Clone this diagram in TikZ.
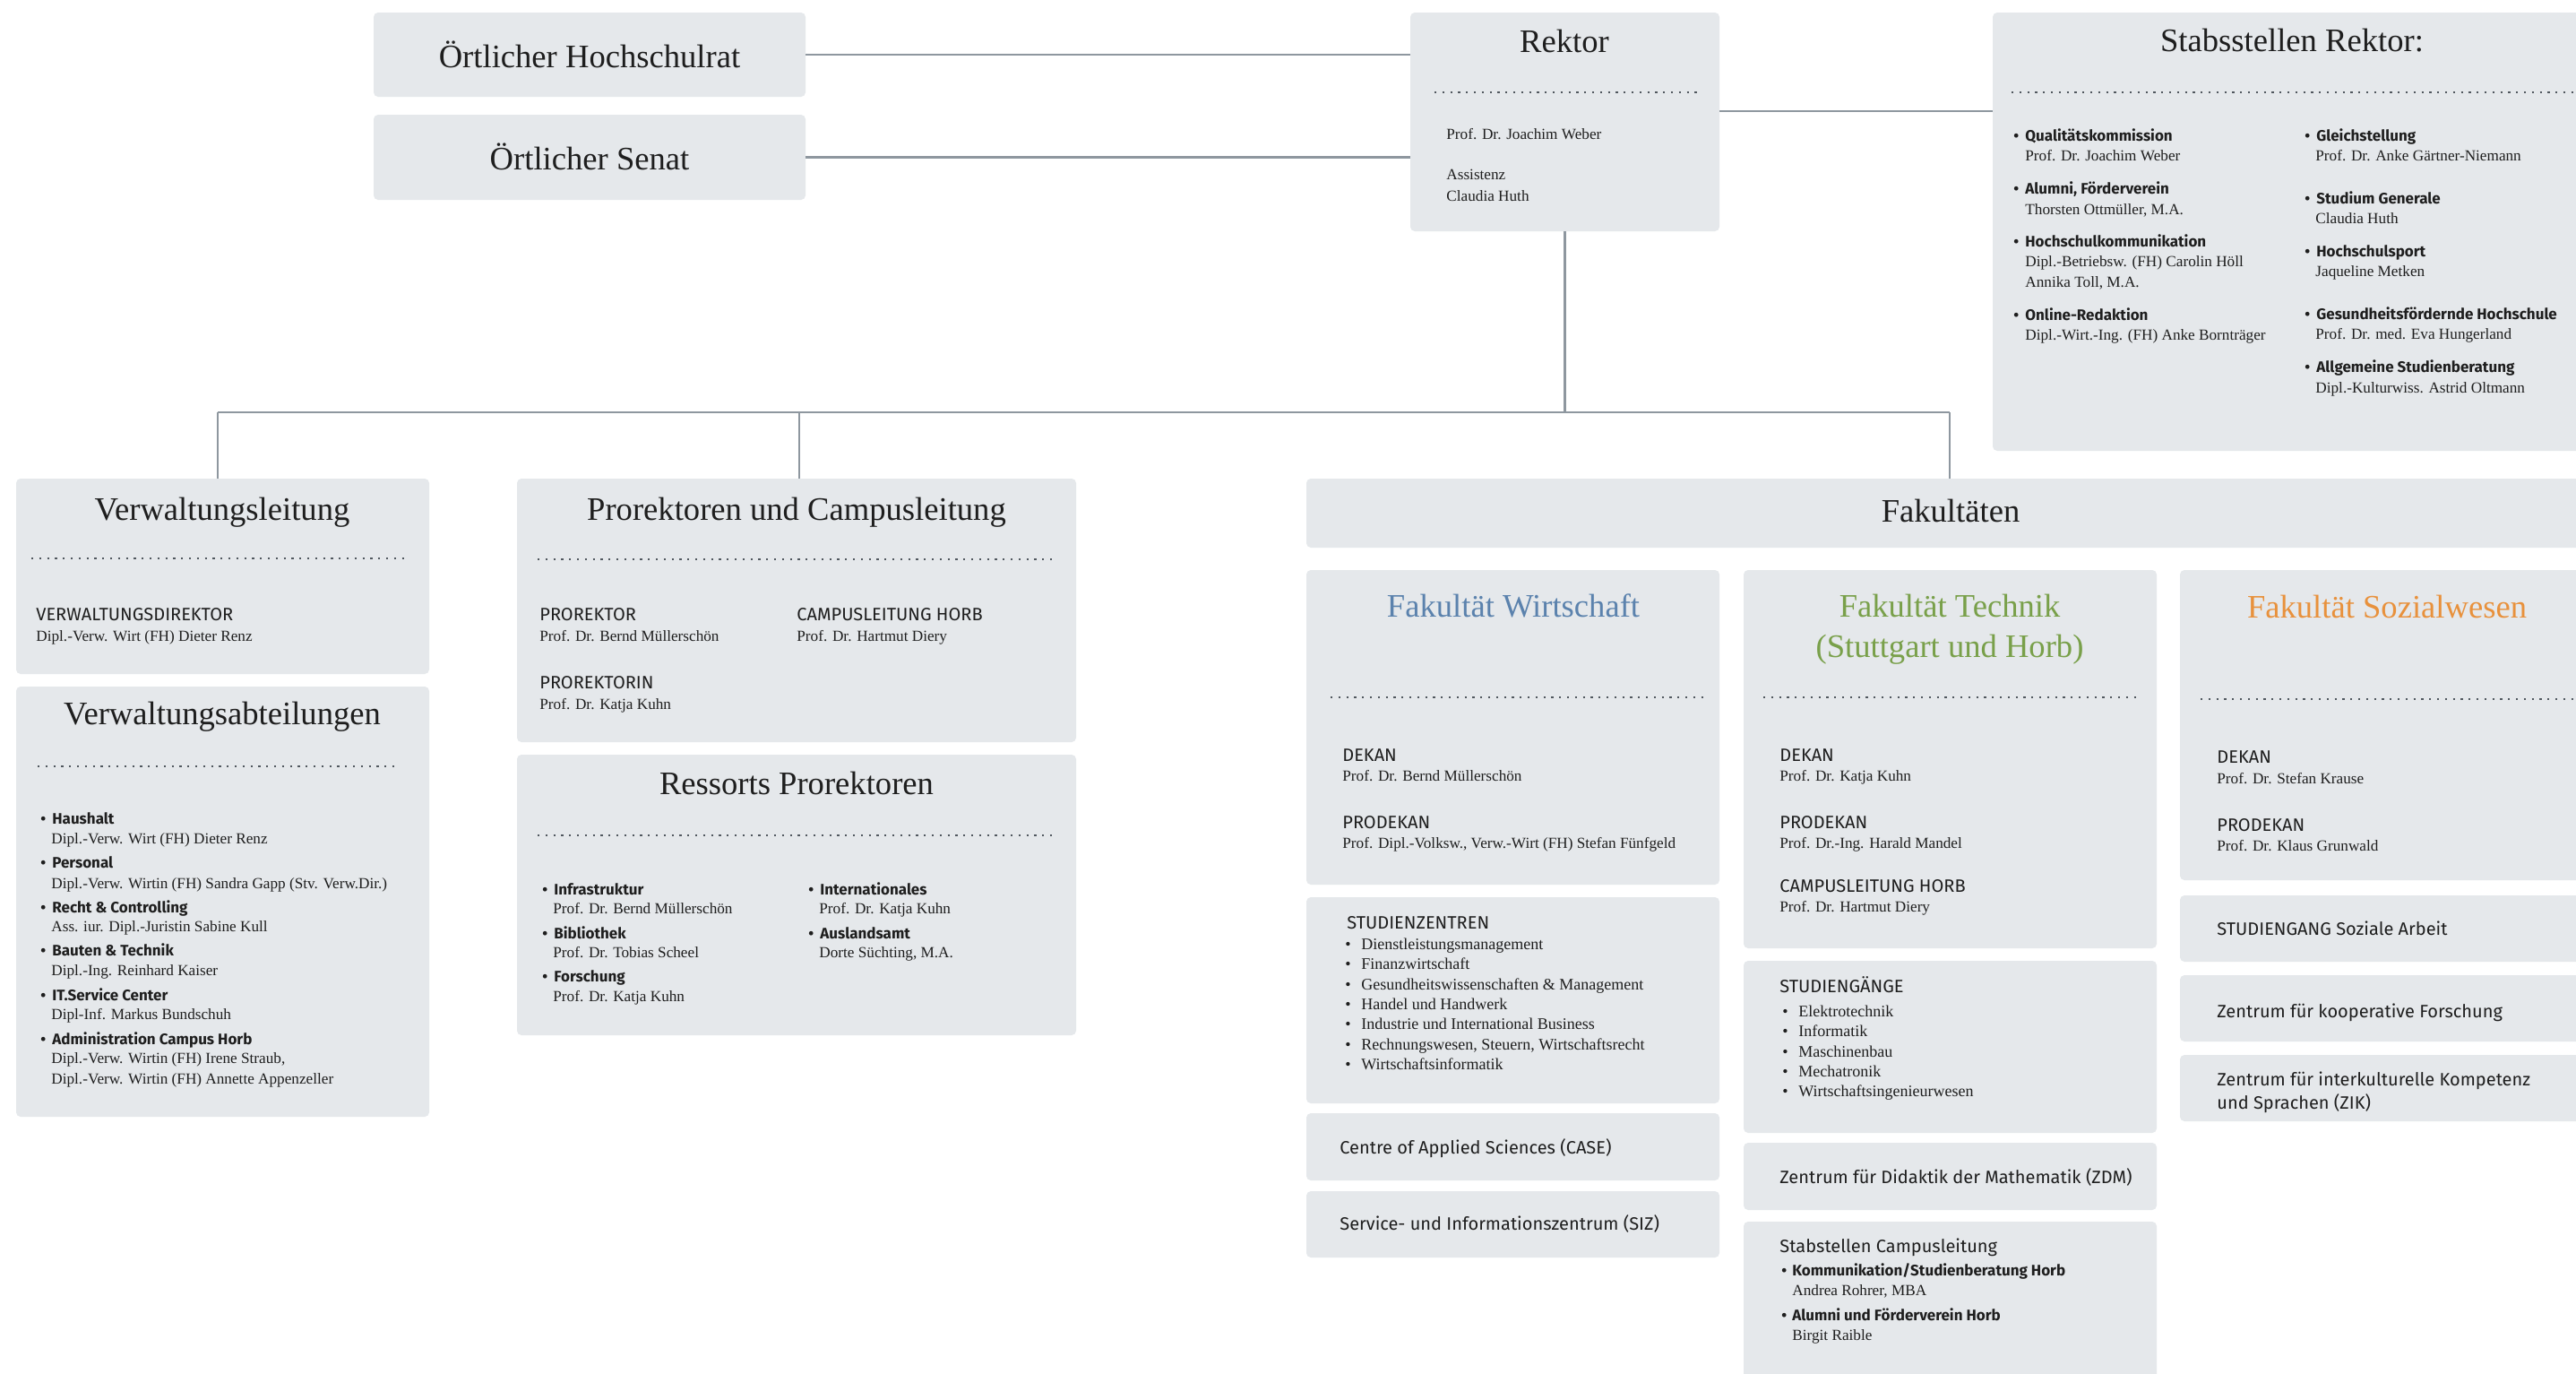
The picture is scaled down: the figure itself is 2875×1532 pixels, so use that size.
\documentclass[tikz,border=0pt]{standalone}
\usepackage{fontspec}
\setmainfont{Liberation Serif}
\newfontfamily\sansf{Fira Sans}
\usetikzlibrary{fit}
\definecolor{boxfill}{HTML}{E5E8EB}
\definecolor{conncol}{HTML}{8E979F}
\definecolor{dotcol}{HTML}{50575E}
\definecolor{txt}{HTML}{1E1E1E}
\definecolor{wiblue}{HTML}{5B82AD}
\definecolor{tegreen}{HTML}{79A04A}
\definecolor{soorange}{HTML}{E8913C}
\newcommand\bul{\makebox[6.5pt][l]{•}}
\newcommand\bulw{\makebox[9pt][l]{•}}
\begin{document}
\begin{tikzpicture}[x=0.5pt,y=-0.5pt,
  box/.style={fill=boxfill, draw=none, rounded corners=2.5pt, inner sep=0pt},
  conn/.style={draw=conncol, line width=1.3pt},
  sep/.style={draw=dotcol, line width=1.1pt, dash pattern=on 1.1pt off 3.3pt},
  ttl/.style={anchor=base, inner sep=0pt, font=\fontsize{18.3}{20}\selectfont, text=txt},
  nm/.style={anchor=base west, inner sep=0pt, font=\fontsize{8.6}{10}\selectfont, text=txt},
  li/.style={anchor=base west, inner sep=0pt, font=\fontsize{9}{10}\selectfont, text=txt},
  hd/.style={anchor=base west, inner sep=0pt, font=\sansf\fontsize{10}{11}\selectfont, text=txt},
  bh/.style={anchor=base west, inner sep=0pt, font=\sansf\bfseries\fontsize{8.5}{10}\selectfont, text=txt}]
\useasboundingbox (0,0) rectangle (2875,1532);
\clip (0,0) rectangle (2875,1532);
\fill[white] (0,0) rectangle (2875,1532);

% ---------- boxes ----------
\node[box, fit={(417,14) (899,108)}] (hsr) {};
\node[box, fit={(417,128) (899,223)}] (senat) {};
\node[box, fit={(1574,14) (1919,258)}] (rektor) {};
\node[box, fit={(2224,14) (2900,503)}] (stabs) {};
\node[box, fit={(18,534) (479,752)}] (vl) {};
\node[box, fit={(18,766) (479,1246)}] (va) {};
\node[box, fit={(577,534) (1201,828)}] (pro) {};
\node[box, fit={(577,842) (1201,1155)}] (res) {};
\node[box, fit={(1458,534) (2900,611)}] (fak) {};
\node[box, fit={(1458,636) (1919,987)}] (wi) {};
\node[box, fit={(1946,636) (2407,1058)}] (te) {};
\node[box, fit={(2433,636) (2900,982)}] (so) {};
\node[box, fit={(1458,1001) (1919,1231)}] (stz) {};
\node[box, fit={(1458,1242) (1919,1317)}] (case) {};
\node[box, fit={(1458,1329) (1919,1403)}] (siz) {};
\node[box, fit={(1946,1072) (2407,1264)}] (stg) {};
\node[box, fit={(1946,1275) (2407,1350)}] (zdm) {};
\node[box, fit={(1946,1363) (2407,1560)}] (stc) {};
\node[box, fit={(2433,999) (2900,1073)}] (sga) {};
\node[box, fit={(2433,1088) (2900,1162)}] (zkf) {};
\node[box, fit={(2433,1177) (2900,1251)}] (zik) {};

% ---------- connectors ----------
\coordinate (b1) at (243,460);
\coordinate (b2) at (892,460);
\coordinate (b3) at (2176,460);
\draw[conn] (hsr.east) -- (hsr.east -| rektor.west);
\draw[conn] (senat.east) -- (senat.east -| rektor.west);
\draw[conn] ([yshift=6pt]rektor.east) -- ([yshift=6pt]rektor.east -| stabs.west);
\draw[conn] (rektor.south) -- (rektor.south |- b1);
\draw[conn] (b1) -- (b3);
\draw[conn] (b1) -- (b1 |- vl.north);
\draw[conn] (b2) -- (b2 |- pro.north);
\draw[conn] (b3) -- (b3 |- fak.north);

% ---------- top row ----------
\node[ttl] (hsrT) at (658,75) {Örtlicher Hochschulrat};
\node[ttl] (senT) at (658,189) {Örtlicher Senat};
\node[ttl] (rkT) at (1746,58) {Rektor};
\draw[sep] (1601,103) -- (1897,103);
\node[nm] (rk1) at (1614,155) {Prof. Dr. Joachim Weber};
\node[nm] (rk2) at (1614,200) {Assistenz};
\node[nm] (rk3) at (1614,224) {Claudia Huth};

\node[ttl] (stT) at (2558,57) {Stabsstellen Rektor:};
\draw[sep] (2245,103) -- (2875,103);
\node[bh] (sa1) at (2247,157) {\bul Qualitätskommission};
\node[nm] (sa1n) at (2260,179) {Prof. Dr. Joachim Weber};
\node[bh] (sa2) at (2247,216) {\bul Alumni, Förderverein};
\node[nm] (sa2n) at (2260,239) {Thorsten Ottmüller, M.A.};
\node[bh] (sa3) at (2247,275) {\bul Hochschulkommunikation};
\node[nm] (sa3n) at (2260,297) {Dipl.-Betriebsw. (FH) Carolin Höll};
\node[nm] (sa3m) at (2260,320) {Annika Toll, M.A.};
\node[bh] (sa4) at (2247,357) {\bul Online-Redaktion};
\node[nm] (sa4n) at (2260,379) {Dipl.-Wirt.-Ing. (FH) Anke Bornträger};
\node[bh] (sb1) at (2572,157) {\bul Gleichstellung};
\node[nm] (sb1n) at (2584,179) {Prof. Dr. Anke Gärtner-Niemann};
\node[bh] (sb2) at (2572,227) {\bul Studium Generale};
\node[nm] (sb2n) at (2584,249) {Claudia Huth};
\node[bh] (sb3) at (2572,286) {\bul Hochschulsport};
\node[nm] (sb3n) at (2584,308) {Jaqueline Metken};
\node[bh] (sb4) at (2572,356) {\bul Gesundheitsfördernde Hochschule};
\node[nm] (sb4n) at (2584,378) {Prof. Dr. med. Eva Hungerland};
\node[bh] (sb5) at (2572,415) {\bul Allgemeine Studienberatung};
\node[nm] (sb5n) at (2584,438) {Dipl.-Kulturwiss. Astrid Oltmann};

% ---------- Verwaltung ----------
\node[ttl] (vlT) at (248,580) {Verwaltungsleitung};
\draw[sep] (35,623) -- (455,623);
\node[hd] (vl1) at (40,692) {VERWALTUNGSDIREKTOR};
\node[nm] (vl1n) at (40,715) {Dipl.-Verw. Wirt (FH) Dieter Renz};

\node[ttl] (vaT) at (248,808) {Verwaltungsabteilungen};
\draw[sep] (42,855) -- (444,855);
\node[bh] (va1) at (45,919) {\bul Haushalt};
\node[nm] (va1n) at (57,941) {Dipl.-Verw. Wirt (FH) Dieter Renz};
\node[bh] (va2) at (45,968) {\bul Personal};
\node[nm] (va2n) at (57,991) {Dipl.-Verw. Wirtin (FH) Sandra Gapp (Stv. Verw.Dir.)};
\node[bh] (va3) at (45,1018) {\bul Recht \& Controlling};
\node[nm] (va3n) at (57,1039) {Ass. iur. Dipl.-Juristin Sabine Kull};
\node[bh] (va4) at (45,1066) {\bul Bauten \& Technik};
\node[nm] (va4n) at (57,1088) {Dipl.-Ing. Reinhard Kaiser};
\node[bh] (va5) at (45,1116) {\bul IT.Service Center};
\node[nm] (va5n) at (57,1137) {Dipl-Inf. Markus Bundschuh};
\node[bh] (va6) at (45,1165) {\bul Administration Campus Horb};
\node[nm] (va6n) at (57,1186) {Dipl.-Verw. Wirtin (FH) Irene Straub,};
\node[nm] (va6m) at (57,1209) {Dipl.-Verw. Wirtin (FH) Annette Appenzeller};

% ---------- Prorektoren ----------
\node[ttl] (proT) at (889,580) {Prorektoren und Campusleitung};
\draw[sep] (600,624) -- (1179,624);
\node[hd] (pr1) at (602,692) {PROREKTOR};
\node[nm] (pr1n) at (602,715) {Prof. Dr. Bernd Müllerschön};
\node[hd] (pr2) at (889,692) {CAMPUSLEITUNG HORB};
\node[nm] (pr2n) at (889,715) {Prof. Dr. Hartmut Diery};
\node[hd] (pr3) at (602,768) {PROREKTORIN};
\node[nm] (pr3n) at (602,791) {Prof. Dr. Katja Kuhn};

\node[ttl] (resT) at (889,886) {Ressorts Prorektoren};
\draw[sep] (600,932) -- (1179,932);
\node[bh] (ra1) at (605,998) {\bul Infrastruktur};
\node[nm] (ra1n) at (617,1019) {Prof. Dr. Bernd Müllerschön};
\node[bh] (ra2) at (605,1047) {\bul Bibliothek};
\node[nm] (ra2n) at (617,1068) {Prof. Dr. Tobias Scheel};
\node[bh] (ra3) at (605,1095) {\bul Forschung};
\node[nm] (ra3n) at (617,1117) {Prof. Dr. Katja Kuhn};
\node[bh] (rb1) at (902,998) {\bul Internationales};
\node[nm] (rb1n) at (914,1019) {Prof. Dr. Katja Kuhn};
\node[bh] (rb2) at (902,1047) {\bul Auslandsamt};
\node[nm] (rb2n) at (914,1068) {Dorte Süchting, M.A.};

% ---------- Fakultäten ----------
\node[ttl] (fakT) at (2177,582) {Fakultäten};

\node[ttl, text=wiblue] (wiT) at (1689,688) {Fakultät Wirtschaft};
\draw[sep] (1485,778) -- (1901,778);
\node[hd] (wi1) at (1498,849) {DEKAN};
\node[nm] (wi1n) at (1498,871) {Prof. Dr. Bernd Müllerschön};
\node[hd] (wi2) at (1498,924) {PRODEKAN};
\node[nm] (wi2n) at (1498,946) {Prof. Dipl.-Volksw., Verw.-Wirt (FH) Stefan Fünfgeld};

\node[ttl, text=tegreen] (teT1) at (2176,688) {Fakultät Technik};
\node[ttl, text=tegreen] (teT2) at (2176,733) {(Stuttgart und Horb)};
\draw[sep] (1968,778) -- (2384,778);
\node[hd] (te1) at (1986,849) {DEKAN};
\node[nm] (te1n) at (1986,871) {Prof. Dr. Katja Kuhn};
\node[hd] (te2) at (1986,924) {PRODEKAN};
\node[nm] (te2n) at (1986,946) {Prof. Dr.-Ing. Harald Mandel};
\node[hd] (te3) at (1986,995) {CAMPUSLEITUNG HORB};
\node[nm] (te3n) at (1986,1017) {Prof. Dr. Hartmut Diery};

\node[ttl, text=soorange] (soT) at (2664,689) {Fakultät Sozialwesen};
\draw[sep] (2456,780) -- (2875,780);
\node[hd] (so1) at (2474,851) {DEKAN};
\node[nm] (so1n) at (2474,874) {Prof. Dr. Stefan Krause};
\node[hd] (so2) at (2474,927) {PRODEKAN};
\node[nm] (so2n) at (2474,949) {Prof. Dr. Klaus Grunwald};

% Wirtschaft sub boxes
\node[hd] (stzT) at (1503,1036) {STUDIENZENTREN};
\node[li] (stz1) at (1501,1059) {\bulw Dienstleistungsmanagement};
\node[li] (stz2) at (1501,1081) {\bulw Finanzwirtschaft};
\node[li] (stz3) at (1501,1104) {\bulw Gesundheitswissenschaften \& Management};
\node[li] (stz4) at (1501,1126) {\bulw Handel und Handwerk};
\node[li] (stz5) at (1501,1148) {\bulw Industrie und International Business};
\node[li] (stz6) at (1501,1171) {\bulw Rechnungswesen, Steuern, Wirtschaftsrecht};
\node[li] (stz7) at (1501,1193) {\bulw Wirtschaftsinformatik};
\node[hd] (caseT) at (1495,1287) {Centre of Applied Sciences (CASE)};
\node[hd] (sizT) at (1495,1372) {Service- und Informationszentrum (SIZ)};

% Technik sub boxes
\node[hd] (stgT) at (1986,1107) {STUDIENGÄNGE};
\node[li] (stg1) at (1989,1134) {\bulw Elektrotechnik};
\node[li] (stg2) at (1989,1156) {\bulw Informatik};
\node[li] (stg3) at (1989,1179) {\bulw Maschinenbau};
\node[li] (stg4) at (1989,1201) {\bulw Mechatronik};
\node[li] (stg5) at (1989,1223) {\bulw Wirtschaftsingenieurwesen};
\node[hd] (zdmT) at (1986,1320) {Zentrum für Didaktik der Mathematik (ZDM)};
\node[hd] (stcT) at (1986,1397) {Stabstellen Campusleitung};
\node[bh] (stc1) at (1988,1423) {\makebox[6pt][l]{•}Kommunikation/Studienberatung Horb};
\node[nm] (stc1n) at (2000,1445) {Andrea Rohrer, MBA};
\node[bh] (stc2) at (1988,1473) {\makebox[6pt][l]{•}Alumni und Förderverein Horb};
\node[nm] (stc2n) at (2000,1495) {Birgit Raible};

% Sozialwesen sub boxes
\node[hd] (sgaT) at (2474,1043) {STUDIENGANG Soziale Arbeit};
\node[hd] (zkfT) at (2474,1135) {Zentrum für kooperative Forschung};
\node[hd] (zikT1) at (2474,1211) {Zentrum für interkulturelle Kompetenz};
\node[hd] (zikT2) at (2474,1237) {und Sprachen (ZIK)};
\end{tikzpicture}
\end{document}
